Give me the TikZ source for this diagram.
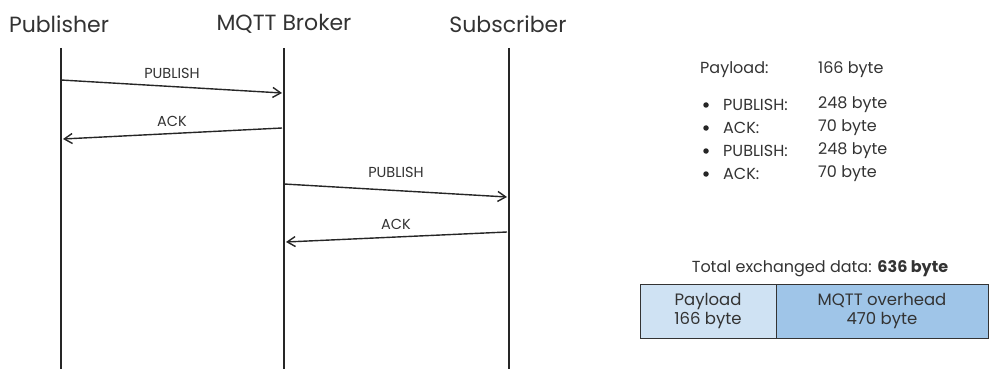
\documentclass[tikz,border=0pt]{standalone}
\usepackage{fontspec}
\setmainfont{Poppins}
\usetikzlibrary{arrows.meta}

\definecolor{txtgray}{HTML}{333333}
\definecolor{payloadblue}{HTML}{CFE2F3}
\definecolor{overheadblue}{HTML}{9FC5E8}

\tikzset{
  lifeline/.style={line width=1.6pt, black!85},
  msg/.style={line width=1.4pt, black!85, -{Straight Barb[length=8pt, width=10pt, line width=1.4pt]}},
  msglabel/.style={font=\fontsize{14.5}{16}\selectfont, text=txtgray},
  actor/.style={font=\fontsize{22}{25}\selectfont, text=txtgray},
  info/.style={font=\fontsize{16}{19}\selectfont, text=txtgray, anchor=west, inner sep=0pt},
  dot/.style={circle, fill=black!85, inner sep=0pt, minimum size=5.5pt},
  cell/.style={draw=black!80, line width=1pt, font=\fontsize{16.5}{19.5}\selectfont, text=txtgray, align=center}
}

\begin{document}
\begin{tikzpicture}
    [x=1pt, y=-1pt]

    \useasboundingbox (0,0) rectangle (989,369);

    % actors
    \node [actor] at (59,  24) (pub) {Publisher};
    \node [actor] at (284, 24) (brk) {MQTT Broker};
    \node [actor] at (508, 24) (sub) {Subscriber};

    \coordinate (pubtop) at (61,  48);
    \coordinate (pubbot) at (61,  369);
    \coordinate (brktop) at (284, 48);
    \coordinate (brkbot) at (284, 369);
    \coordinate (subtop) at (509, 48);
    \coordinate (subbot) at (509, 369);

    \draw [lifeline] (pubtop) -- (pubbot);
    \draw [lifeline] (brktop) -- (brkbot);
    \draw [lifeline] (subtop) -- (subbot);

    % messages
    \coordinate (m1a) at (61,  80);
    \coordinate (m1b) at (282, 93);
    \coordinate (m2a) at (282, 128);
    \coordinate (m2b) at (63,  139);
    \coordinate (m3a) at (284, 184);
    \coordinate (m3b) at (507, 197);
    \coordinate (m4a) at (507, 232);
    \coordinate (m4b) at (286, 242);

    \draw [msg] (m1a) -- (m1b);
    \draw [msg] (m2a) -- (m2b);
    \draw [msg] (m3a) -- (m3b);
    \draw [msg] (m4a) -- (m4b);

    \node [msglabel] at (172, 73)  (l1) {PUBLISH};
    \node [msglabel] at (172, 121) (l2) {ACK};
    \node [msglabel] at (396, 172) (l3) {PUBLISH};
    \node [msglabel] at (396, 224) (l4) {ACK};

    % sizes
    \node [info] at (700, 70)  (pl)  {Payload:};
    \node [info] at (818, 70)  (plv) {166 byte};

    \node [dot] at (706, 105) (b1) {};
    \node [dot] at (706, 128) (b2) {};
    \node [dot] at (706, 151) (b3) {};
    \node [dot] at (706, 174) (b4) {};

    \node [info] at (723, 105) (k1) {PUBLISH:};
    \node [info] at (723, 128) (k2) {ACK:};
    \node [info] at (723, 151) (k3) {PUBLISH:};
    \node [info] at (723, 174) (k4) {ACK:};

    \node [info] at (818, 105) (v1) {248 byte};
    \node [info] at (818, 128) (v2) {70 byte};
    \node [info] at (818, 151) (v3) {248 byte};
    \node [info] at (818, 174) (v4) {70 byte};

    % total
    \node [info, anchor=center] at (820, 269) (tot) {Total exchanged data: \textbf{636 byte}};

    \draw [cell, fill=payloadblue]  (640, 284) rectangle (776, 338);
    \draw [cell, fill=overheadblue] (776, 284) rectangle (988, 338);
    \node [cell, draw=none] at (708, 311) (pay) {Payload\\166 byte};
    \node [cell, draw=none] at (882, 311) (ovh) {MQTT overhead\\470 byte};

  \end{tikzpicture}
\end{document}
